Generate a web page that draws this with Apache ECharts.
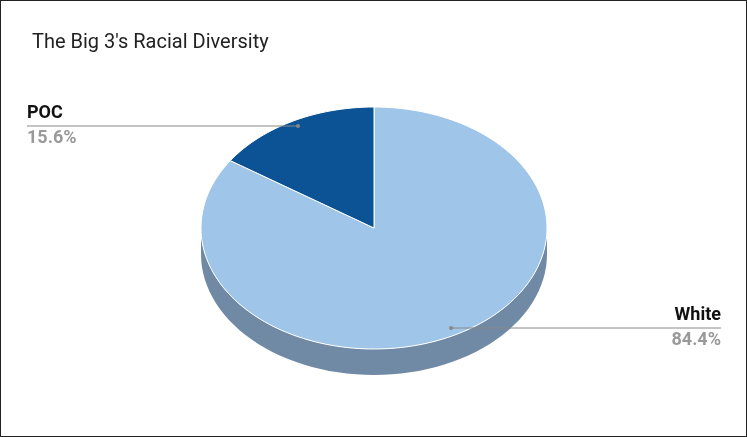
<!DOCTYPE html>
<html><head><meta charset="utf-8">
<script src="https://cdn.jsdelivr.net/npm/echarts@6/dist/echarts.min.js"></script>
<style>html,body{margin:0;padding:0;background:#fff}#c{width:745px;height:435px;border:1px solid #222}</style>
</head><body><div id="c"></div>
<script>
const title = "The Big 3's Racial Diversity";
const categories = ["White", "POC"];
const values = [84.4, 15.6];
const topColors = ["#9fc5e8", "#0b5394"];
const sideColors = ["#7089a5", "#083a68"];

const total = values.reduce((a,b)=>a+b,0);
let acc = 0;
const data = categories.map((n,i)=>{const s=acc/total; acc+=values[i]; return [s, acc/total, values[i], i];});

const chart = echarts.init(document.getElementById('c'), null, {renderer:'canvas'});
const cx=373, cy=227, rx=173, ry=121, depth=26;
function pt(t, d){const a=t*2*Math.PI; return [cx+rx*Math.sin(a), cy-ry*Math.cos(a)+(d||0)];}
chart.setOption({
  animation:false,
  title:{text:title,left:26,top:27,textStyle:{fontFamily:'Roboto',fontSize:20,fontWeight:'normal',color:'#222'}},
  xAxis:{show:false,min:0,max:1},yAxis:{show:false,min:0,max:1},
  grid:{left:0,right:0,top:0,bottom:0},
  series:[{type:'custom',coordinateSystem:'none',data:data,
    renderItem:function(params, api){
      const s=api.value(0), e=api.value(1), v=api.value(2), idx=api.value(3);
      const children=[];
      // side (front half visible: t in [0.25,0.75])
      const a0=Math.max(s,0.25), a1=Math.min(e,0.75);
      if(a1>a0){
        const top=[], bot=[];
        for(let k=0;k<=60;k++){const t=a0+(a1-a0)*k/60; top.push(pt(t)); bot.push(pt(t,depth));}
        children.push({type:'polygon',shape:{points:top.concat(bot.reverse())},style:{fill:sideColors[idx]}});
      }
      const pts=[[cx,cy]];
      const n=Math.max(4,Math.round((e-s)*200));
      for(let k=0;k<=n;k++) pts.push(pt(s+(e-s)*k/n));
      children.push({type:'polygon',shape:{points:pts},style:{fill:topColors[idx],stroke:'#fff',lineWidth:1}});
      // labels
      const name=categories[idx], pct=v.toFixed(1)+'%';
      if(idx===0){
        const ly=327, lx0=450, lx1=720;
        children.push({type:'line',shape:{x1:lx0,y1:ly,x2:lx1,y2:ly},style:{stroke:'#888',lineWidth:1}});
        children.push({type:'circle',shape:{cx:lx0,cy:ly,r:2},style:{fill:'#888'}});
        children.push({type:'text',style:{x:lx1,y:ly-4,text:name,align:'right',verticalAlign:'bottom',font:'bold 18px Roboto',fill:'#111'}});
        children.push({type:'text',style:{x:lx1,y:ly+3,text:pct,align:'right',verticalAlign:'top',font:'bold 18px Roboto',fill:'#999'}});
      } else {
        const ly=125, lx0=26, lx1=297;
        children.push({type:'line',shape:{x1:lx0,y1:ly,x2:lx1,y2:ly},style:{stroke:'#888',lineWidth:1}});
        children.push({type:'circle',shape:{cx:lx1,cy:ly,r:2},style:{fill:'#888'}});
        children.push({type:'text',style:{x:lx0,y:ly-4,text:name,align:'left',verticalAlign:'bottom',font:'bold 18px Roboto',fill:'#111'}});
        children.push({type:'text',style:{x:lx0,y:ly+3,text:pct,align:'left',verticalAlign:'top',font:'bold 18px Roboto',fill:'#999'}});
      }
      return {type:'group',children:children};
    }}]
});
</script></body></html>
